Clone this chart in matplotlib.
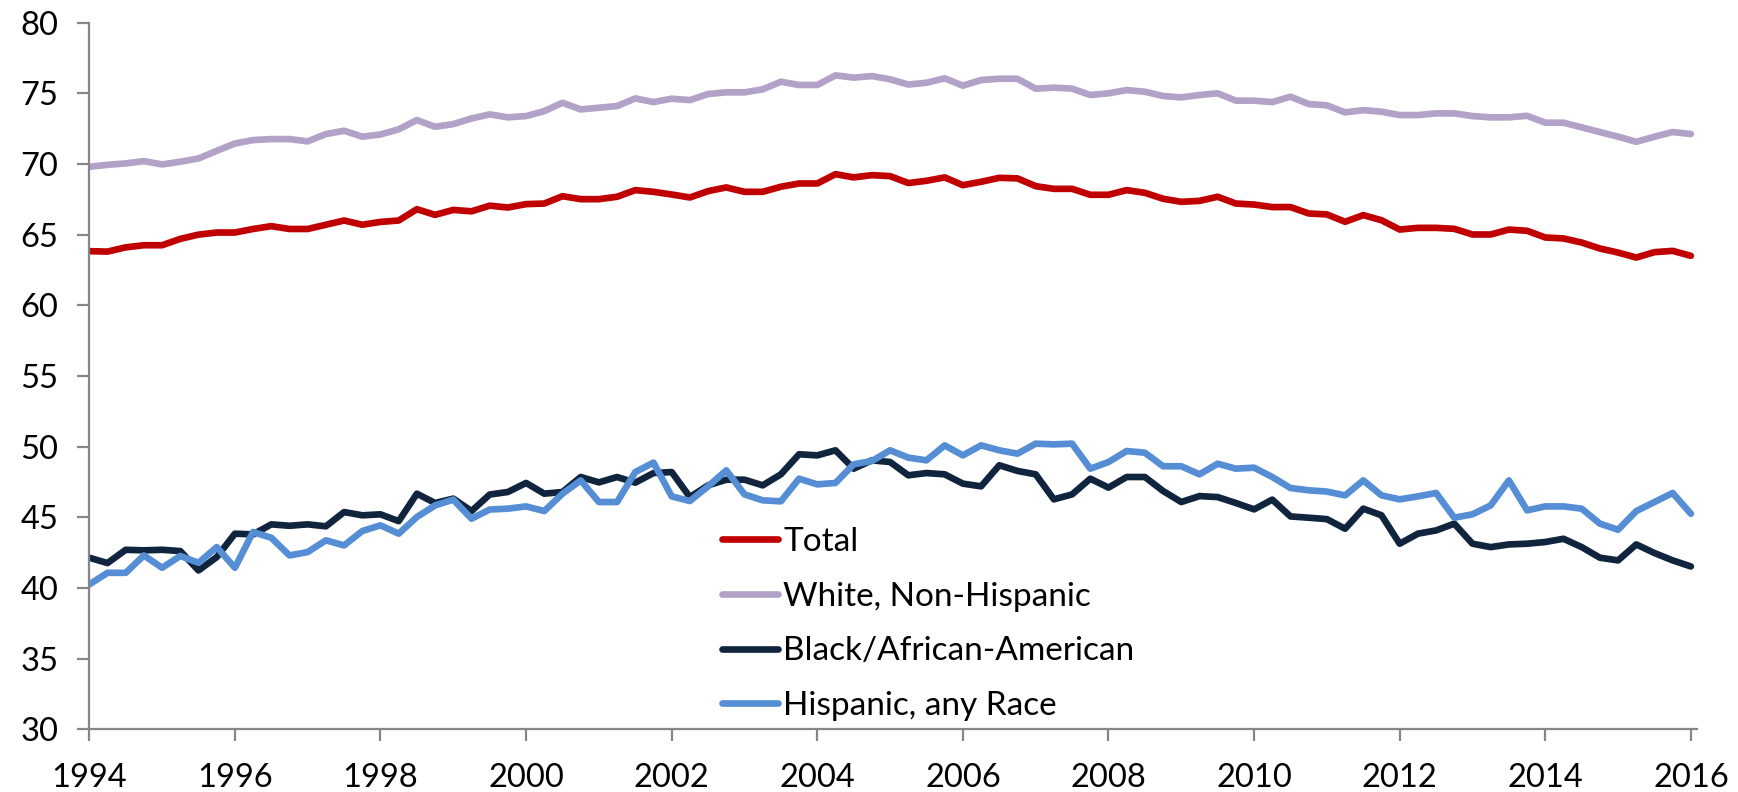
import numpy as np
import matplotlib
matplotlib.use("Agg")
import matplotlib.pyplot as plt

plt.rcParams['font.family'] = ['Lato', 'DejaVu Sans']

# Quarterly observations, Q1 1994 through Q1 2016
start_year = 1994
quarters_per_year = 4

total = [
    63.83, 63.8, 64.1, 64.25, 64.25, 64.7, 65.0, 65.15, 65.15, 65.4,
    65.6, 65.4, 65.4, 65.7, 66.0, 65.7, 65.9, 66.0, 66.8, 66.4,
    66.75, 66.65, 67.05, 66.92, 67.16, 67.2, 67.72, 67.51, 67.51, 67.68,
    68.15, 68.03, 67.84, 67.63, 68.08, 68.34, 68.03, 68.03, 68.39, 68.62,
    68.62, 69.28, 69.05, 69.21, 69.14, 68.65, 68.81, 69.05, 68.5, 68.74,
    69.02, 68.98, 68.43, 68.24, 68.24, 67.82, 67.82, 68.15, 67.96, 67.54,
    67.32, 67.39, 67.68, 67.2, 67.13, 66.95, 66.95, 66.5, 66.43, 65.91,
    66.38, 66.02, 65.36, 65.48, 65.48, 65.41, 65.01, 65.01, 65.36, 65.27,
    64.8, 64.73, 64.44, 64.02, 63.73, 63.38, 63.76, 63.85, 63.5,
]

white = [
    69.8, 69.94, 70.04, 70.2, 69.97, 70.16, 70.39, 70.93, 71.45, 71.69,
    71.76, 71.76, 71.6, 72.12, 72.35, 71.93, 72.09, 72.45, 73.11, 72.63,
    72.82, 73.22, 73.51, 73.3, 73.39, 73.74, 74.33, 73.86, 73.98, 74.1,
    74.64, 74.38, 74.62, 74.52, 74.95, 75.07, 75.07, 75.28, 75.82, 75.59,
    75.59, 76.27, 76.11, 76.22, 75.99, 75.62, 75.75, 76.06, 75.54, 75.94,
    76.03, 76.03, 75.33, 75.4, 75.33, 74.88, 75.0, 75.23, 75.11, 74.81,
    74.71, 74.88, 75.0, 74.48, 74.48, 74.38, 74.76, 74.24, 74.15, 73.65,
    73.81, 73.7, 73.46, 73.46, 73.58, 73.58, 73.39, 73.3, 73.3, 73.41,
    72.92, 72.92, 72.59, 72.26, 71.93, 71.57, 71.93, 72.26, 72.12,
]

black = [
    42.14, 41.76, 42.7, 42.66, 42.7, 42.61, 41.24, 42.18, 43.84, 43.79,
    44.5, 44.4, 44.5, 44.36, 45.37, 45.14, 45.21, 44.73, 46.67, 46.01,
    46.32, 45.44, 46.61, 46.79, 47.43, 46.67, 46.79, 47.85, 47.47, 47.85,
    47.45, 48.13, 48.2, 46.43, 47.26, 47.66, 47.66, 47.26, 48.04, 49.46,
    49.38, 49.74, 48.44, 49.03, 48.91, 47.97, 48.13, 48.04, 47.38, 47.19,
    48.68, 48.28, 48.04, 46.27, 46.62, 47.73, 47.1, 47.85, 47.85, 46.86,
    46.08, 46.5, 46.43, 46.01, 45.56, 46.25, 45.06, 44.97, 44.87, 44.19,
    45.61, 45.14, 43.13, 43.84, 44.07, 44.55, 43.13, 42.89, 43.08, 43.13,
    43.25, 43.48, 42.89, 42.14, 41.95, 43.08, 42.47, 41.95, 41.52,
]

hispanic = [
    40.25, 41.07, 41.07, 42.3, 41.43, 42.26, 41.78, 42.89, 41.43, 43.96,
    43.55, 42.3, 42.54, 43.37, 43.01, 44.03, 44.43, 43.84, 45.02, 45.84,
    46.25, 44.9, 45.55, 45.61, 45.77, 45.44, 46.67, 47.61, 46.08, 46.08,
    48.2, 48.87, 46.48, 46.15, 47.19, 48.32, 46.62, 46.2, 46.13, 47.73,
    47.33, 47.43, 48.75, 48.98, 49.74, 49.22, 49.03, 50.09, 49.38, 50.09,
    49.74, 49.5, 50.21, 50.16, 50.21, 48.44, 48.91, 49.69, 49.57, 48.61,
    48.61, 48.04, 48.79, 48.44, 48.51, 47.85, 47.07, 46.91, 46.82, 46.55,
    47.61, 46.55, 46.27, 46.48, 46.72, 44.97, 45.21, 45.84, 47.61, 45.49,
    45.77, 45.77, 45.61, 44.55, 44.12, 45.44, 46.08, 46.72, 45.25,
]

series_labels = ["Total", "White, Non-Hispanic", "Black/African-American", "Hispanic, any Race"]
series_colors = ["#C00000", "#B3A2C7", "#10243E", "#558ED5"]
year_ticks = list(range(1994, 2017, 2))
value_ticks = list(range(30, 81, 5))

x = start_year + np.arange(len(total)) / quarters_per_year

fig = plt.figure(figsize=(17.38, 7.92), dpi=100)
ax = fig.add_axes([0.05138, 0.0792, 0.92486, 0.8922])

for values, label, color in zip([total, white, black, hispanic], series_labels, series_colors):
    ax.plot(x, values, color=color, lw=4.8, label=label,
            solid_capstyle='round', solid_joinstyle='round')

ax.set_xlim(1994, 2016.08)
ax.set_ylim(30, 80)
ax.set_xticks(year_ticks)
ax.set_xticklabels([str(y) for y in year_ticks])
ax.set_yticks(value_ticks)

spine_color = "#868686"
for side in ("top", "right"):
    ax.spines[side].set_visible(False)
for side in ("left", "bottom"):
    ax.spines[side].set_color(spine_color)
    ax.spines[side].set_linewidth(1.6)

ax.tick_params(axis='both', direction='out', length=8.5, width=1.6,
               color=spine_color, labelsize=23.5, labelcolor='black')
ax.tick_params(axis='y', pad=14)
ax.tick_params(axis='x', pad=16)

leg = ax.legend(loc='upper left', bbox_to_anchor=(722 / 1738, 1 - 527 / 792),
                bbox_transform=fig.transFigure, frameon=False, fontsize=24,
                borderpad=0, borderaxespad=0, handlelength=1.68,
                handletextpad=0.15, labelspacing=0.74)
for line in leg.get_lines():
    line.set_solid_capstyle('round')

fig.savefig("out.png", dpi=100)
